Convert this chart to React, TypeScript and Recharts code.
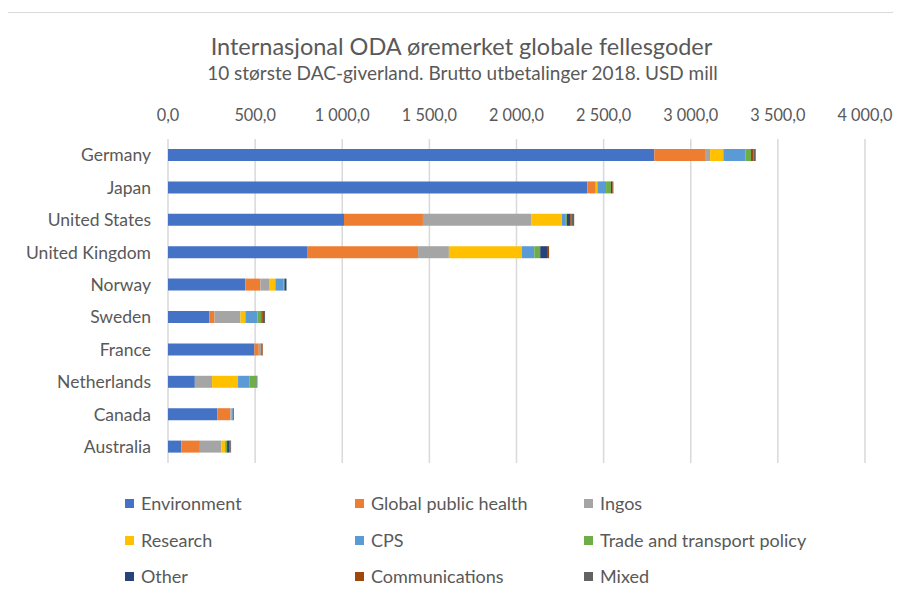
import { BarChart, Bar, XAxis, YAxis, CartesianGrid } from "recharts";

const countries = [
  "Germany",
  "Japan",
  "United States",
  "United Kingdom",
  "Norway",
  "Sweden",
  "France",
  "Netherlands",
  "Canada",
  "Australia",
];

const environment = [2791, 2407, 1010, 798, 444, 238, 496, 154, 284, 77];
const health = [291, 44, 453, 637, 86, 29, 25, 0, 74, 106];
const ingos = [29, 5, 621, 177, 50, 149, 15, 99, 6, 124];
const research = [76, 8, 176, 419, 36, 28, 0, 149, 0, 21];
const cps = [128, 50, 19, 71, 48, 69, 0, 67, 8, 0];
const trade = [31, 28, 10, 34, 4, 23, 0, 40, 0, 11];
const other = [5, 8, 19, 44, 12, 4, 4, 2, 0, 12];
const communications = [10, 6, 6, 7, 0, 11, 4, 0, 0, 6];
const mixed = [12, 0, 17, 0, 0, 6, 0, 2, 6, 5];

const xTicks = [0, 500, 1000, 1500, 2000, 2500, 3000, 3500, 4000];

const series = [
  { key: "environment", name: "Environment", color: "#4472C4", values: environment },
  { key: "health", name: "Global public health", color: "#ED7D31", values: health },
  { key: "ingos", name: "Ingos", color: "#A5A5A5", values: ingos },
  { key: "research", name: "Research", color: "#FFC000", values: research },
  { key: "cps", name: "CPS", color: "#5B9BD5", values: cps },
  { key: "trade", name: "Trade and transport policy", color: "#70AD47", values: trade },
  { key: "other", name: "Other", color: "#264478", values: other },
  { key: "communications", name: "Communications", color: "#9E480E", values: communications },
  { key: "mixed", name: "Mixed", color: "#636363", values: mixed },
];

const data = countries.map((country, i) => {
  const row: Record<string, string | number> = { country };
  series.forEach((s) => {
    row[s.key] = s.values[i];
  });
  return row;
});

const font = "Lato, 'Noto Sans', sans-serif";
const textColor = "#595959";

// 1 000,0 style
const formatTick = (v: number) => {
  const [int, dec] = v.toFixed(1).split(".");
  return int.replace(/\B(?=(\d{3})+(?!\d))/g, " ") + "," + dec;
};

const legendX = [130, 360, 589];
const legendY = [503, 540, 576];

export default function App() {
  return (
    <div
      style={{
        position: "relative",
        width: 901,
        height: 597,
        margin: -8,
        background: "white",
        overflow: "hidden",
        fontFamily: font,
      }}
    >
      <div
        style={{
          position: "absolute",
          left: 5,
          top: 12,
          width: 920,
          height: 620,
          border: "1px solid #d9d9d9",
        }}
      />
      <div
        style={{
          position: "absolute",
          left: 0,
          width: 901,
          top: 31,
          textAlign: "center",
          fontSize: 23.5,
          color: textColor,
          lineHeight: "30px",
          paddingLeft: 22,
          boxSizing: "border-box",
        }}
      >
        Internasjonal ODA øremerket globale fellesgoder
      </div>
      <div
        style={{
          position: "absolute",
          left: 0,
          width: 901,
          top: 61,
          textAlign: "center",
          fontSize: 19,
          color: textColor,
          lineHeight: "24px",
          paddingLeft: 24,
          boxSizing: "border-box",
        }}
      >
        10 største DAC-giverland. Brutto utbetalinger 2018. USD mill
      </div>

      <div style={{ position: "absolute", left: 0, top: 0 }}>
        <BarChart
          width={901}
          height={597}
          data={data}
          layout="vertical"
          margin={{ top: 109, right: 36, bottom: 134, left: 8 }}
          barSize={12}
        >
          <CartesianGrid horizontal={false} stroke="#d9d9d9" strokeWidth={1.5} />
          <XAxis
            type="number"
            orientation="top"
            domain={[0, 4000]}
            ticks={xTicks}
            tickFormatter={formatTick}
            axisLine={false}
            tickLine={false}
            tickSize={0}
            tickMargin={18}
            height={30}
            tick={{ fill: textColor, fontSize: 16.3, fontFamily: font }}
          />
          <YAxis
            type="category"
            dataKey="country"
            width={160}
            axisLine={false}
            tickLine={false}
            tickSize={0}
            tickMargin={17}
            interval={0}
            tick={{ fill: textColor, fontSize: 17.5, fontFamily: font }}
          />
          {series.map((s) => (
            <Bar
              key={s.key}
              dataKey={s.key}
              name={s.name}
              stackId="a"
              fill={s.color}
              isAnimationActive={false}
            />
          ))}
        </BarChart>
      </div>

      {series.map((s, i) => (
        <div
          key={s.key}
          style={{
            position: "absolute",
            left: legendX[i % 3] - 5,
            top: legendY[Math.floor(i / 3)] - 12,
            height: 24,
            display: "flex",
            alignItems: "center",
            fontSize: 18,
            color: textColor,
            whiteSpace: "nowrap",
          }}
        >
          <span
            style={{
              display: "inline-block",
              width: 9,
              height: 9,
              background: s.color,
              marginRight: 7,
            }}
          />
          {s.name}
        </div>
      ))}
    </div>
  );
}
